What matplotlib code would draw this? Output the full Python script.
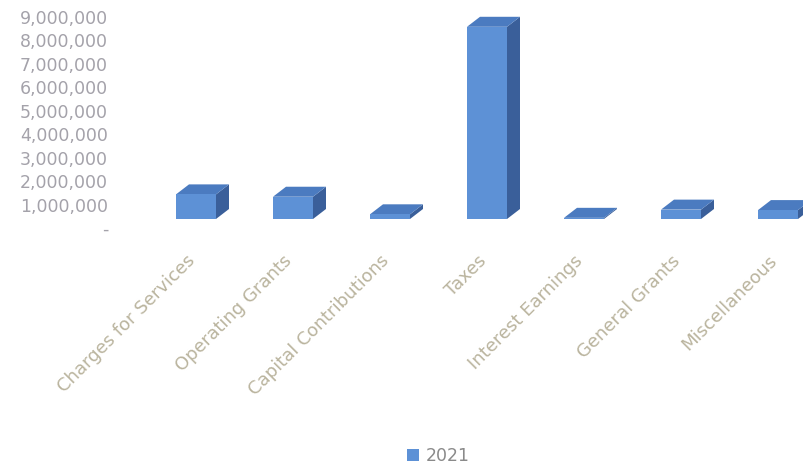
import numpy as np
import matplotlib.pyplot as plt
from matplotlib.patches import Polygon, Patch
from matplotlib.transforms import ScaledTranslation

categories = ['Charges for Services', 'Operating Grants', 'Capital Contributions', 'Taxes',
              'Interest Earnings', 'General Grants', 'Miscellaneous']
values_2021 = [1050000, 950000, 200000, 8200000, 50000, 400000, 380000]
series_name = '2021'
y_ticks = [0, 1000000, 2000000, 3000000, 4000000, 5000000, 6000000, 7000000, 8000000, 9000000]

front_c = '#5d91d6'
top_c = '#4b7bc0'
side_c = '#3a5f9a'

fig = plt.figure(figsize=(8.04, 4.75), dpi=100)
# axes placed in pixels: left 115, right 804, top 5, bottom 228 (from top)
ax = fig.add_axes([115 / 804, 247 / 475, 689 / 804, 223 / 475])

px_per_cat = 97.0
px_per_unit = 23.44 / 1e6
x_lo = (115 - 196) / px_per_cat
x_hi = (804 - 196) / px_per_cat
y_lo = -9 / px_per_unit
y_hi = (219 - 5) / px_per_unit
ax.set_xlim(x_lo, x_hi)
ax.set_ylim(y_lo, y_hi)

x = np.arange(len(categories))
w = 40 / px_per_cat
ddx = 13 / px_per_cat
ddy = 10 / px_per_unit

for xi, v in zip(x, values_2021):
    l, r = xi - w / 2, xi + w / 2
    side = Polygon([(r, 0), (r + ddx, ddy), (r + ddx, v + ddy), (r, v)],
                   closed=True, facecolor=side_c, edgecolor='none', zorder=2)
    top = Polygon([(l, v), (r, v), (r + ddx, v + ddy), (l + ddx, v + ddy)],
                  closed=True, facecolor=top_c, edgecolor='none', zorder=2)
    ax.add_patch(side)
    ax.add_patch(top)
ax.bar(x, values_2021, width=w, color=front_c, zorder=3)

# labels sit a bit lower than the bar floor (3d projection look)
ax.set_yticks([t + y_lo for t in y_ticks],
              ['-' if t == 0 else f'{t:,}' for t in y_ticks])
ax.tick_params(axis='y', length=0, pad=5, labelsize=12.5, labelcolor='#a4a2aa')

ax.set_xticks(x)
ax.set_xticklabels(categories, rotation=45, ha='right', rotation_mode='anchor',
                   fontsize=13, color='#bab49e')
ax.tick_params(axis='x', length=0, pad=17)
shift = ScaledTranslation(-0.1, 0, fig.dpi_scale_trans)
for lab in ax.get_xticklabels():
    lab.set_transform(lab.get_transform() + shift)

for s in ax.spines.values():
    s.set_visible(False)

fig.legend(handles=[Patch(facecolor=front_c)], labels=[series_name], loc='lower center',
           bbox_to_anchor=(0.545, -0.012), frameon=False, fontsize=12.5, labelcolor='#8a8a8a',
           handlelength=0.7, handleheight=0.7, handletextpad=0.4)

fig.savefig('out.png', dpi=100)
